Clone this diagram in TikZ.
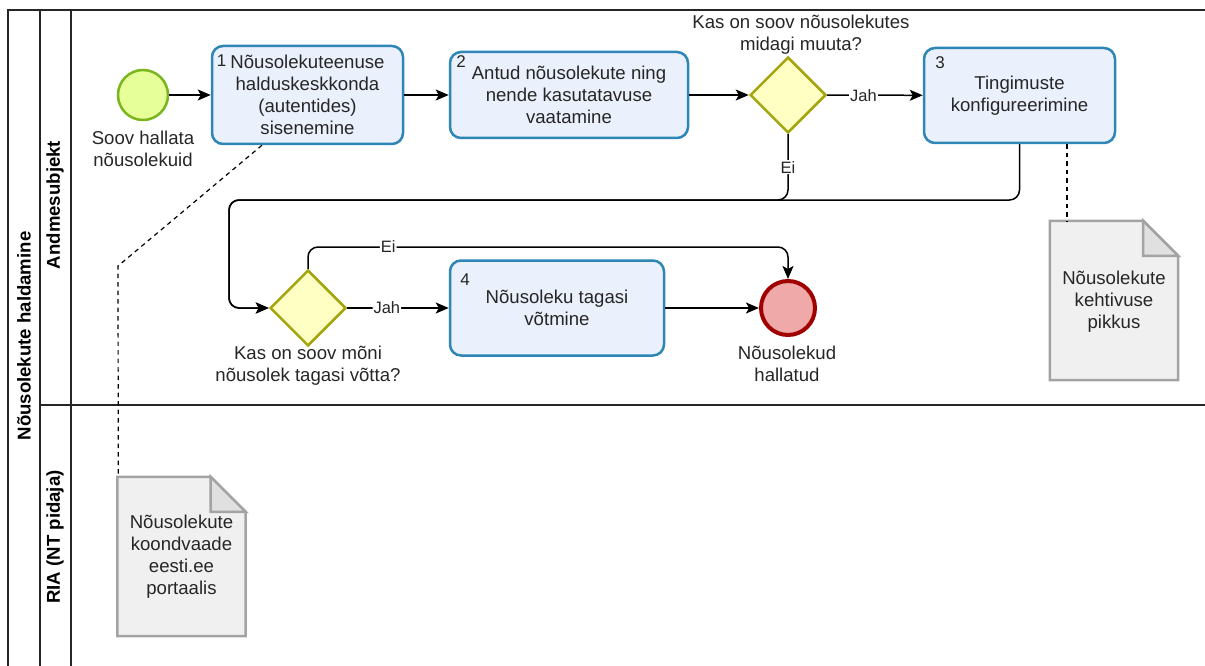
\documentclass[tikz,border=0pt]{standalone}
\usepackage{fontspec}
\setmainfont{Liberation Sans}
\usetikzlibrary{shapes.geometric,arrows.meta}
\definecolor{taskfill}{HTML}{EAF0FC}
\definecolor{taskdraw}{HTML}{2E86B6}
\definecolor{gwfill}{HTML}{FFFFC4}
\definecolor{gwdraw}{HTML}{A5A50F}
\definecolor{stfill}{HTML}{E6FF99}
\definecolor{stdraw}{HTML}{7AB51D}
\definecolor{endfill}{HTML}{EFA9A9}
\definecolor{enddraw}{HTML}{A00000}
\definecolor{docfill}{HTML}{F0F0F0}
\definecolor{docdraw}{HTML}{A3A3A3}
\definecolor{foldfill}{HTML}{E0E0E0}
\definecolor{txtc}{HTML}{262626}
\begin{document}
\begin{tikzpicture}[x=1pt,y=-1pt,
  font=\fontsize{18.6}{22}\selectfont,
  every node/.style={text=txtc},
  task/.style={draw=taskdraw, fill=taskfill, line width=2.5pt, rounded corners=11pt, inner sep=0pt, align=center},
  gw/.style={diamond, draw=gwdraw, fill=gwfill, line width=2.5pt, minimum width=76pt, minimum height=76pt, inner sep=0pt},
  startev/.style={circle, draw=stdraw, fill=stfill, line width=2.5pt, minimum size=50pt, inner sep=0pt},
  endev/.style={circle, draw=enddraw, fill=endfill, line width=4pt, minimum size=54pt, inner sep=0pt},
  docbox/.style={inner sep=0pt, minimum width=128pt, minimum height=159pt, align=center},
  docline/.style={draw=docdraw, fill=docfill, line width=2.5pt, line join=miter},
  flow/.style={line width=1.5pt, -{Stealth[length=13pt,width=11pt,inset=3pt]}, rounded corners=10pt},
  assoc/.style={line width=1.2pt, dash pattern=on 4.5pt off 4pt},
  lbl/.style={fill=white, inner sep=1pt, font=\fontsize{16.5}{20}\selectfont},
  num/.style={inner sep=0pt, font=\fontsize{17}{20}\selectfont},
  txt/.style={align=center, inner sep=0pt},
  lane/.style={rotate=90, font=\fontsize{18.6}{22}\selectfont\bfseries, text=black},
  pline/.style={line width=1.5pt, draw=black!85}
]
\useasboundingbox (0,0) rectangle (1205,666);
% pool and lanes
\draw[pline] (1205,10) -- (8,10) -- (8,666);
\draw[pline] (40,10) -- (40,666);
\draw[pline] (71,10) -- (71,666);
\draw[pline] (40,405) -- (1205,405);
\node[lane] (pool) at (24,336) {Nõusolekute haldamine};
\node[lane] (lane1) at (55,205) {Andmesubjekt};
\node[lane] (lane2) at (55,537) {RIA (NT pidaja)};

% events
\node[startev] (start) at (143,95) {};
\node[txt, anchor=north] (startl) at (143,131) {Soov hallata\\nõusolekuid};
\node[endev] (end) at (788,308) {};
\node[txt, anchor=north] (endl) at (787,346) {Nõusolekud\\hallatud};

% tasks
\node[task, minimum width=191pt, minimum height=98pt] (t1) at (307.5,95) {Nõusolekuteenuse\\halduskeskkonda\\(autentides)\\sisenemine};
\node[num] (n1) at (221.5,61) {1};
\node[task, minimum width=238pt, minimum height=86pt] (t2) at (569,95) {Antud nõusolekute ning\\nende kasutatavuse\\vaatamine};
\node[num] (n2) at (461,62) {2};
\node[task, minimum width=191pt, minimum height=95pt] (t3) at (1019.5,95.5) {Tingimuste\\konfigureerimine};
\node[num] (n3) at (940,63) {3};
\node[task, minimum width=214pt, minimum height=95pt] (t4) at (557,308) {Nõusoleku tagasi\\võtmine};
\node[num] (n4) at (465,280) {4};

% gateways
\node[gw] (gw1) at (788,95) {};
\node[txt, anchor=south] (gw1l) at (801,55) {Kas on soov nõusolekutes\\midagi muuta?};
\node[gw] (gw2) at (308,308) {};
\node[txt, anchor=north] (gw2l) at (308,346) {Kas on soov mõni\\nõusolek tagasi võtta?};

% documents
\node[docbox] (doc1) at (1114,300.5) {};
\node[docbox] (doc2) at (181.5,556.5) {};
\foreach \d in {doc1,doc2}{
  \draw[docline] (\d.south west) -- (\d.north west) -- ([xshift=-35pt]\d.north east) -- ([yshift=-35pt]\d.north east) -- (\d.south east) -- cycle;
  \draw[docline, fill=foldfill] ([xshift=-35pt]\d.north east) -- ([xshift=-35pt,yshift=-35pt]\d.north east) -- ([yshift=-35pt]\d.north east) -- cycle;
}
\node[txt] (doc1t) at ([yshift=-1.5pt]doc1.center) {Nõusolekute\\kehtivuse\\pikkus};
\node[txt] (doc2t) at (doc2.center) {Nõusolekute\\koondvaade\\eesti.ee\\portaalis};

% sequence flows
\coordinate (jg1) at (788,200);
\coordinate (jt3) at (1019.5,200);
\coordinate (jl) at (229,200);
\coordinate (jb) at (229,308);
\coordinate (lt) at (308,247);
\coordinate (lr) at (788,247);
\draw[flow] (start) -- (t1);
\draw[flow] (t1) -- (t2);
\draw[flow] (t2) -- (gw1);
\draw[flow] (gw1) -- node[lbl, pos=0.38] {Jah} (t3);
\draw[flow] (t3.south) -- (jt3) -- (jl) -- (jb) -- (gw2.west);
\draw[flow] (gw1.south) -- node[lbl] {Ei} (jg1) -- (jl) -- (jb) -- (gw2.west);
\draw[flow] (gw2) -- node[lbl, pos=0.39] {Jah} (t4);
\draw[flow] (gw2.north) -- (lt) -- node[lbl, pos=0.167] {Ei} (lr) -- (end.north);
\draw[flow] (t4) -- (end);

% associations
\coordinate (a1) at (118,266);
\draw[assoc] ([xshift=-45.5pt]t1.south) -- (a1) -- ([xshift=1pt]doc2.north west);
\draw[assoc] ([xshift=47.5pt]t3.south) -- ([xshift=47.5pt]t3.south |- doc1.north);
\end{tikzpicture}
\end{document}
